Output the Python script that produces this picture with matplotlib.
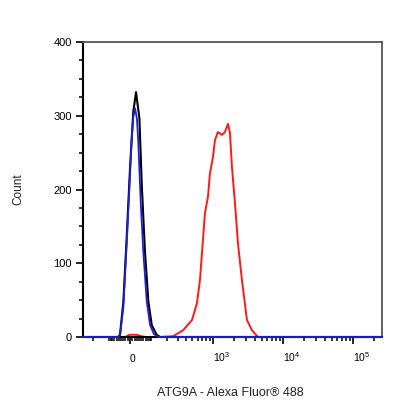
import numpy as np
import matplotlib
matplotlib.use("Agg")
import matplotlib.pyplot as plt
from matplotlib.ticker import FixedLocator, FixedFormatter

plt.rcParams['font.family'] = ['Liberation Sans', 'DejaVu Sans']
plt.rcParams['mathtext.fontset'] = 'custom'
plt.rcParams['mathtext.rm'] = 'Liberation Sans'

# fluorescence values (linear units) and counts
black_x = [-300, -53, -44, -29, -14, 0, 14, 26, 41, 52, 67, 84, 102, 130, 152, 262144]
black_y = [0, 0, 3, 48, 138, 229, 305, 332, 297, 206, 116, 48, 16, 3, 0, 0]

blue_x = [-300, -50, -44, -29, -14, 0, 7, 14, 22, 30, 36, 47, 59, 76, 93, 114, 140, 262144]
blue_y = [0, 0, 2, 40, 128, 220, 268, 298, 310, 296, 265, 183, 116, 48, 16, 4, 0, 0]

red_x = [-300, -20, -10, 0, 30, 50, 70, 150, 254, 363, 495, 586, 648, 717, 766, 847,
         905, 1000, 1069, 1180, 1347, 1488, 1643, 1755, 1875, 2070, 2286, 2607, 3075,
         3629, 4418, 262144]
red_y = [0, 0, 2, 3, 3, 1, 0, 0, 1, 9, 23, 46, 77, 132, 168, 190, 222, 244, 267, 278,
         274, 278, 289, 277, 230, 182, 127, 77, 23, 9, 0, 0]

x_major = [0, 1e3, 1e4, 1e5]
x_major_labels = ['0', r'$\mathregular{10^{3}}$', r'$\mathregular{10^{4}}$', r'$\mathregular{10^{5}}$']
y_major = [0, 100, 200, 300, 400]

W = 131.0


def fwd(v):
    return np.arcsinh(np.asarray(v, dtype=float) / W) / np.log(10)


def inv(u):
    return W * np.sinh(np.asarray(u, dtype=float) * np.log(10))


fig = plt.figure(figsize=(4.16, 4.16), dpi=100)
ax = fig.add_axes([83 / 416, 1 - 337 / 416, 299 / 416, 295 / 416])

line_kw = dict(clip_on=False, solid_joinstyle='round', solid_capstyle='round')
ax.plot(red_x, red_y, color='#ff1a1a', lw=1.4, zorder=2, **line_kw)
ax.plot(black_x, black_y, color='black', lw=1.5, zorder=3, **line_kw)
ax.plot(blue_x, blue_y, color='#1f1fd6', lw=1.3, zorder=4, **line_kw)

ax.set_xscale('function', functions=(fwd, inv))
ax.set_xlim(-294, 262144)
ax.set_ylim(0, 400)

minor = []
for k in [1, 2]:
    for m in range(1, 10):
        v = m * 10 ** k
        if v <= 294:
            minor.append(-v)
        minor.append(v)
for k in [3, 4, 5]:
    for m in range(2, 10):
        v = m * 10 ** k
        if v < 262144:
            minor.append(v)
ax.xaxis.set_major_locator(FixedLocator(x_major))
ax.xaxis.set_major_formatter(FixedFormatter(x_major_labels))
ax.xaxis.set_minor_locator(FixedLocator(minor))
ax.yaxis.set_major_locator(FixedLocator(y_major))
ax.yaxis.set_minor_locator(FixedLocator(np.arange(25, 400, 25)))

ax.tick_params(axis='both', which='major', direction='out', length=5, width=1.2,
               color='black', labelsize=8)
ax.tick_params(axis='both', which='minor', direction='out', length=3, width=1.1,
               color='black')
ax.tick_params(axis='x', which='major', pad=13, labelsize=7.5)
ax.tick_params(axis='y', which='major', pad=3)
for lbl in ax.get_xticklabels():
    lbl.set_horizontalalignment('left')
    lbl.set_verticalalignment('baseline')

for side in ['left', 'bottom']:
    ax.spines[side].set_linewidth(1.5)
    ax.spines[side].set_color('black')
for side in ['top', 'right']:
    ax.spines[side].set_linewidth(1.3)
    ax.spines[side].set_color('#555555')

fig.text(18 / 416, 1 - 189 / 416, 'Count', rotation=90, ha='center', va='center',
         fontsize=8.5, color='#222222')
fig.text(230 / 416, 1 - 393 / 416, 'ATG9A - Alexa Fluor® 488', ha='center', va='center',
         fontsize=9, color='#222222')

fig.savefig('out.png', dpi=100)
